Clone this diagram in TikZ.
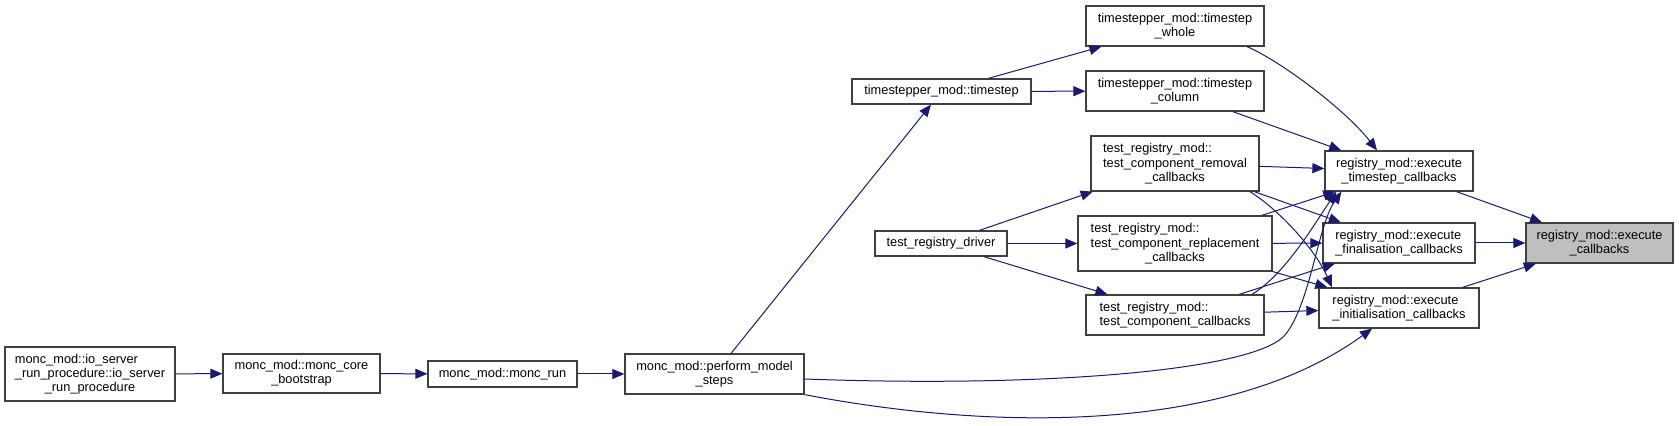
\documentclass[tikz,border=0pt]{standalone}
\usepackage{fontspec}
\setmainfont{Liberation Sans}
\usepackage{tikz}
\usetikzlibrary{arrows.meta, calc}
\definecolor{edgeblue}{RGB}{25,25,112}
\definecolor{boxgrey}{RGB}{64,64,64}
\definecolor{hlgrey}{RGB}{191,191,191}
\tikzset{
  fnbox/.style={rectangle, draw=boxgrey, fill=white, line width=0.65pt,
    align=center, inner sep=1pt, font=\fontsize{6.4}{7.1}\selectfont},
  hlbox/.style={fnbox, fill=hlgrey},
  call/.style={-{Triangle[length=6pt,width=5pt]}, line width=0.5pt, color=edgeblue}
}
\newcommand{\leftpair}[2]{\begin{tabular}[b]{@{}l@{}}#1\\#2\end{tabular}}

\begin{document}
\begin{tikzpicture}[x=0.5pt, y=-0.5pt]
  \useasboundingbox (0,0) rectangle (1679,426);
  % Callers, bottom row
  \node[fnbox, minimum width=85pt, minimum height=27pt] (io) at (90,374)
    {\leftpair{monc\_mod::io\_server}{\_run\_procedure::io\_server}\\ \_run\_procedure};
  \node[fnbox, minimum width=78.5pt, minimum height=19.5pt] (boot) at (301.5,373.5)
    {monc\_mod::monc\_core\\ \_bootstrap};
  \node[fnbox, minimum width=74.5pt, minimum height=13pt] (run) at (502.5,374)
    {monc\_mod::monc\_run};
  \node[fnbox, minimum width=89.5pt, minimum height=20pt] (perform) at (714.5,374)
    {monc\_mod::perform\_model\\ \_steps};
  % Middle column
  \node[fnbox, minimum width=89.5pt, minimum height=12.5pt] (timestep) at (941.5,91.5)
    {timestepper\_mod::timestep};
  \node[fnbox, minimum width=66pt, minimum height=12.5pt] (driver) at (941,243.5)
    {test\_registry\_driver};
  \node[fnbox, minimum width=89pt, minimum height=20pt] (whole) at (1175,26)
    {timestepper\_mod::timestep\\ \_whole};
  \node[fnbox, minimum width=89pt, minimum height=20pt] (column) at (1175,91)
    {timestepper\_mod::timestep\\ \_column};
  \node[fnbox, minimum width=84pt, minimum height=27.5pt] (removal) at (1175,163.5)
    {\leftpair{test\_registry\_mod::}{test\_component\_removal}\\ \_callbacks};
  \node[fnbox, minimum width=97pt, minimum height=27.5pt] (replace) at (1175,243.5)
    {\leftpair{test\_registry\_mod::}{test\_component\_replacement}\\ \_callbacks};
  \node[fnbox, align=left, minimum width=89pt, minimum height=20pt] (compcb) at (1175,315)
    {test\_registry\_mod::\\ test\_component\_callbacks};
  % Registry executors
  \node[fnbox, minimum width=74pt, minimum height=20pt] (tscb) at (1399,171)
    {registry\_mod::execute\\ \_timestep\_callbacks};
  \node[fnbox, align=left, minimum width=76pt, minimum height=20pt] (fincb) at (1399,243)
    {registry\_mod::execute\\ \_finalisation\_callbacks};
  \node[fnbox, align=left, minimum width=80pt, minimum height=20pt] (initcb) at (1399,308)
    {registry\_mod::execute\\ \_initialisation\_callbacks};
  \node[hlbox, minimum width=73.5pt, minimum height=20pt] (execcb) at (1599.5,243)
    {registry\_mod::execute\\ \_callbacks};

  % Call edges
  \draw[call] (io) -- (boot);
  \draw[call] (boot) -- (run);
  \draw[call] (run) -- (perform);
  \draw[call] (perform) -- (timestep);
  \draw[call] ($(perform.east)+(0,5)$) .. controls (1050,388) and (1255,370) .. (1285,335)
    .. controls (1310,305) and (1318,225) .. ($(tscb.south west)+(17,0)$);
  \draw[call] (perform.south east) .. controls (1000,432) and (1230,432) .. ($(initcb.south)+(-27,0)$);
  \draw[call] (timestep) -- (whole);
  \draw[call] (timestep) -- (column);
  \draw[call] ($(whole.south)+(72,0)$) .. controls +(33,14) and +(-32,-41) .. ($(tscb.north)+(-22,0)$);
  \draw[call] (column) -- (tscb);
  \draw[call] (driver) -- (removal);
  \draw[call] (driver) -- (replace);
  \draw[call] (driver) -- (compcb);
  \draw[call] (removal) -- (tscb);
  \draw[call] (removal) -- (fincb);
  \draw[call] ($(removal.south)+(75,0)$) .. controls +(30,19) and +(-17,-38) .. ($(initcb.north)+(-67,0)$);
  \draw[call] (replace) -- (tscb);
  \draw[call] (replace) -- (fincb);
  \draw[call] (replace) -- (initcb);
  \draw[call] ($(compcb.north)+(77,0)$) .. controls +(33,-20) and +(-23,34) .. ($(tscb.south west)+(12,0)$);
  \draw[call] (compcb) -- (fincb);
  \draw[call] (compcb) -- (initcb);
  \draw[call] (tscb) -- (execcb);
  \draw[call] (fincb) -- (execcb);
  \draw[call] (initcb) -- (execcb);
\end{tikzpicture}
\end{document}
